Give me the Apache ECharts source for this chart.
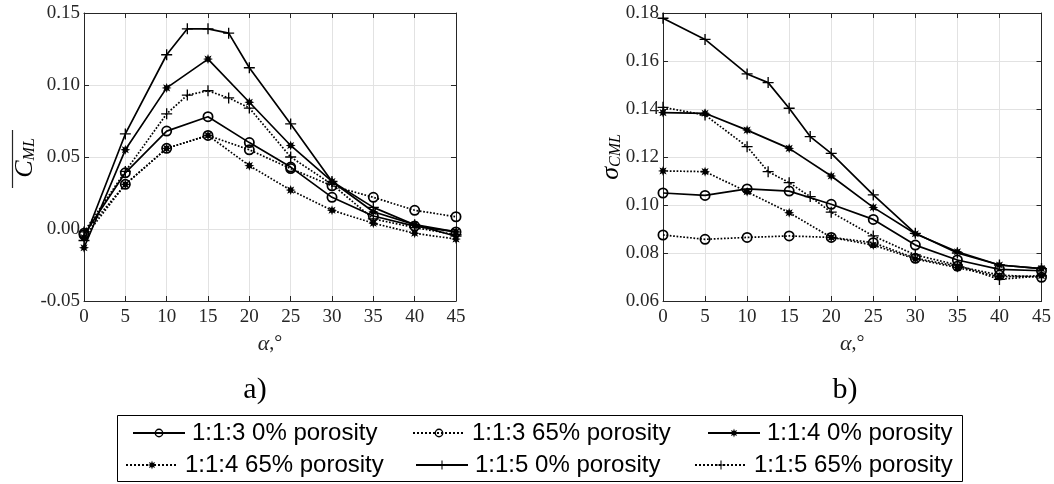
<!DOCTYPE html>
<html><head><meta charset="utf-8">
<script src="https://cdn.jsdelivr.net/npm/echarts@6/dist/echarts.min.js"></script>
<style>html,body{margin:0;padding:0;background:#fff}#c{width:1054px;height:484px}</style>
</head><body><div id="c"></div>
<script>
// ---- data ----
const alpha = [0, 5, 10, 15, 20, 25, 30, 35, 40, 45];
const alpha5 = [0, 5, 10, 12.5, 15, 17.5, 20, 25, 30, 35, 40, 45];
const names = ['1:1:3 0% porosity', '1:1:3 65% porosity', '1:1:4 0% porosity',
               '1:1:4 65% porosity', '1:1:5 0% porosity', '1:1:5 65% porosity'];
// mean lift coefficient (panel a)
const c13_0  = [-0.004, 0.039, 0.068, 0.078, 0.060, 0.043, 0.022, 0.009, 0.002, -0.002];
const c13_65 = [-0.003, 0.031, 0.056, 0.065, 0.055, 0.042, 0.030, 0.022, 0.013, 0.0085];
const c14_0  = [-0.013, 0.055, 0.098, 0.118, 0.088, 0.058, 0.033, 0.012, 0.003, -0.002];
const c14_65 = [-0.006, 0.031, 0.056, 0.065, 0.044, 0.027, 0.013, 0.004, -0.003, -0.007];
const c15_0  = [-0.008, 0.066, 0.121, 0.139, 0.139, 0.136, 0.112, 0.073, 0.033, 0.015, 0.003, -0.005];
const c15_65 = [-0.002, 0.040, 0.080, 0.093, 0.096, 0.091, 0.084, 0.050, 0.031, 0.007, 0.001, -0.004];
// standard deviation (panel b)
const s13_0  = [0.105, 0.104, 0.1067, 0.1058, 0.1003, 0.094, 0.0833, 0.0771, 0.0732, 0.0726];
const s13_65 = [0.0875, 0.0857, 0.0865, 0.0871, 0.0865, 0.0843, 0.0778, 0.0745, 0.0708, 0.0699];
const s14_0  = [0.1385, 0.1382, 0.1312, 0.1236, 0.1121, 0.099, 0.088, 0.0805, 0.075, 0.0735];
const s14_65 = [0.1142, 0.1139, 0.1055, 0.0968, 0.0865, 0.0833, 0.0775, 0.0739, 0.0701, 0.0705];
const s15_0  = [0.1778, 0.169, 0.1546, 0.151, 0.1403, 0.1285, 0.1215, 0.1042, 0.0882, 0.080, 0.075, 0.0735];
const s15_65 = [0.1407, 0.1375, 0.1243, 0.1139, 0.1093, 0.1035, 0.097, 0.0871, 0.0792, 0.075, 0.069, 0.0705];

// ---- styles ----
const RING = 'path://M0,-10A10,10 0 1,1 0,10A10,10 0 1,1 0,-10ZM0,-6.8A6.8,6.8 0 1,0 0,6.8A6.8,6.8 0 1,0 0,-6.8Z';
const STAR = 'path://M10,0L4.6,1.9L7.07,7.07L1.9,4.6L0,10L-1.9,4.6L-7.07,7.07L-4.6,1.9L-10,0L-4.6,-1.9L-7.07,-7.07L-1.9,-4.6L0,-10L1.9,-4.6L7.07,-7.07L4.6,-1.9Z';
const PLUS = 'path://M-1.2,-10H1.2V-1.2H10V1.2H1.2V10H-1.2V1.2H-10V-1.2H-1.2Z';
const spec = [
  {sym: RING, size: 11, type: 'solid'},
  {sym: RING, size: 11, type: 'dotted'},
  {sym: STAR, size: 10, type: 'solid'},
  {sym: STAR, size: 10, type: 'dotted'},
  {sym: PLUS, size: 11, type: 'solid'},
  {sym: PLUS, size: 11, type: 'dotted'}
];
function mk(i, xs, ys, axisIdx) {
  return {
    type: 'line', name: names[i], xAxisIndex: axisIdx, yAxisIndex: axisIdx,
    data: xs.map((x, k) => [x, ys[k]]),
    symbol: spec[i].sym, symbolSize: spec[i].size, showSymbol: true,
    lineStyle: {color: '#000', width: 1.7, type: spec[i].type},
    itemStyle: {color: '#000', borderWidth: 0},
    emphasis: {disabled: true}, z: 3
  };
}
const AX = '#262626', GRID = '#e2e2e2', SERIF = 'Liberation Serif';
function xAx(gi, pos) {
  const main = pos === 'bottom';
  return {
    type: 'value', gridIndex: gi, position: pos, min: 0, max: 45, interval: 5,
    axisLine: {show: true, onZero: false, lineStyle: {color: AX, width: 1}},
    axisTick: {show: true, inside: true, length: 5, lineStyle: {color: AX}},
    axisLabel: {show: main, fontFamily: SERIF, fontSize: 19, color: AX, margin: 7},
    splitLine: {show: main, lineStyle: {color: GRID, width: 1}}
  };
}
function yAx(gi, pos, min, max, iv) {
  const main = pos === 'left';
  return {
    type: 'value', gridIndex: gi, position: pos, min: min, max: max, interval: iv,
    axisLine: {show: true, onZero: false, lineStyle: {color: AX, width: 1}},
    axisTick: {show: true, inside: true, length: 5, lineStyle: {color: AX}},
    axisLabel: {show: main, fontFamily: SERIF, fontSize: 19, color: AX, margin: 4,
                formatter: v => v.toFixed(2)},
    splitLine: {show: main, lineStyle: {color: GRID, width: 1}}
  };
}
const legPos = [[132, 421], [412, 421], [707, 421], [125, 453], [415, 453], [694, 453]];
const legends = names.map((n, i) => ({
  data: [n], left: legPos[i][0], top: legPos[i][1], padding: 0,
  itemWidth: 52, itemHeight: 11, selectedMode: false,
  textStyle: {fontFamily: 'Liberation Sans', fontSize: 24, color: '#000', padding: [0, 0, 0, 2]}
}));
const xName = {
  text: '{a|α}{b|,°}',
  rich: {a: {fontFamily: SERIF, fontStyle: 'italic', fontSize: 22, color: AX},
         b: {fontFamily: SERIF, fontSize: 20, color: AX}}
};

const chart = echarts.init(document.getElementById('c'), null, {renderer: 'canvas'});
chart.setOption({
  animation: false,
  backgroundColor: '#fff',
  grid: [
    {left: 84, top: 13, width: 372, height: 288},
    {left: 663, top: 13, width: 379, height: 288}
  ],
  xAxis: [
    Object.assign(xAx(0, 'bottom'), {name: xName.text, nameLocation: 'middle', nameGap: 32, nameTextStyle: {rich: xName.rich}}),
    xAx(0, 'top'),
    Object.assign(xAx(1, 'bottom'), {name: xName.text, nameLocation: 'middle', nameGap: 32, nameTextStyle: {rich: xName.rich}}),
    xAx(1, 'top')
  ],
  yAxis: [
    yAx(0, 'left', -0.05, 0.15, 0.05), yAx(0, 'right', -0.05, 0.15, 0.05),
    yAx(1, 'left', 0.06, 0.18, 0.02), yAx(1, 'right', 0.06, 0.18, 0.02)
  ],
  legend: legends,
  graphic: [
    {type: 'text', x: 25, y: 158, rotation: Math.PI / 2, style: {
      text: '{c|C}{s|ML}', align: 'center', verticalAlign: 'middle',
      rich: {c: {fontFamily: SERIF, fontStyle: 'italic', fontSize: 26, color: AX, lineHeight: 26},
             s: {fontFamily: SERIF, fontStyle: 'italic', fontSize: 16, color: AX, lineHeight: 14, verticalAlign: 'bottom'}}}},
    {type: 'line', shape: {x1: 12.5, y1: 130, x2: 12.5, y2: 188}, style: {stroke: AX, lineWidth: 1.2}},
    {type: 'text', x: 611, y: 157, rotation: Math.PI / 2, style: {
      text: '{c|σ}{s|CML}', align: 'center', verticalAlign: 'middle',
      rich: {c: {fontFamily: SERIF, fontStyle: 'italic', fontSize: 26, color: AX, lineHeight: 26},
             s: {fontFamily: SERIF, fontStyle: 'italic', fontSize: 16, color: AX, lineHeight: 14, verticalAlign: 'bottom'}}}},
    {type: 'text', x: 255, y: 390, style: {text: 'a)', fontFamily: SERIF, fontSize: 30, fill: '#000', align: 'center', verticalAlign: 'middle'}},
    {type: 'text', x: 845, y: 390, style: {text: 'b)', fontFamily: SERIF, fontSize: 30, fill: '#000', align: 'center', verticalAlign: 'middle'}},
    {type: 'rect', shape: {x: 117.5, y: 415.5, width: 845, height: 66}, style: {fill: 'none', stroke: '#000', lineWidth: 1}}
  ],
  series: [
    mk(0, alpha, c13_0, 0), mk(1, alpha, c13_65, 0), mk(2, alpha, c14_0, 0),
    mk(3, alpha, c14_65, 0), mk(4, alpha5, c15_0, 0), mk(5, alpha5, c15_65, 0),
    mk(0, alpha, s13_0, 2), mk(1, alpha, s13_65, 2), mk(2, alpha, s14_0, 2),
    mk(3, alpha, s14_65, 2), mk(4, alpha5, s15_0, 2), mk(5, alpha5, s15_65, 2)
  ]
});
</script></body></html>
